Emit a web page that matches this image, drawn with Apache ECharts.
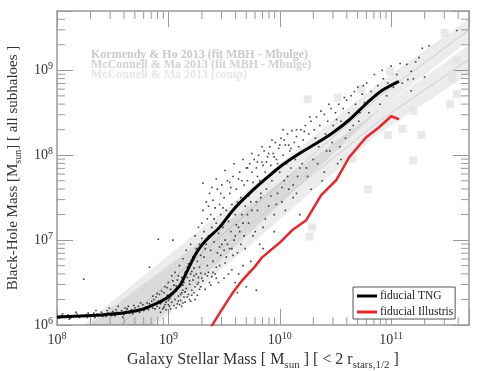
<!DOCTYPE html>
<html>
<head>
<meta charset="utf-8">
<script src="https://cdn.jsdelivr.net/npm/echarts@6/dist/echarts.min.js"></script>
<style>
html, body { margin: 0; padding: 0; background: #fff; }
#chart { width: 480px; height: 371px; }
</style>
</head>
<body>
<div id="chart"></div>
<script>
// all values are log10
var tngLogM  = [8.0, 8.2, 8.385, 8.59, 8.74, 8.86, 8.985, 9.1, 9.16, 9.25, 9.34, 9.46, 9.58, 9.73, 9.88, 10.02, 10.18, 10.33, 10.47, 10.62, 10.78, 10.92, 11.07];
var tngLogBH = [6.094, 6.105, 6.118, 6.141, 6.176, 6.235, 6.318, 6.459, 6.612, 6.847, 7.0, 7.153, 7.353, 7.553, 7.729, 7.882, 8.024, 8.141, 8.259, 8.412, 8.612, 8.765, 8.871];

var illLogM  = [9.38, 9.477, 9.576, 9.665, 9.773, 9.844, 9.996, 10.113, 10.238, 10.372, 10.507, 10.623, 10.776, 10.892, 11.0, 11.071];
var illLogBH = [5.97, 6.176, 6.376, 6.529, 6.682, 6.8, 6.965, 7.118, 7.235, 7.529, 7.706, 7.976, 8.212, 8.329, 8.459, 8.424];

// McConnell & Ma 2013 (comp) points
var compLogM  = [10.25, 10.52, 10.73, 10.99, 11.48, 11.59, 11.55, 11.55, 11.59, 11.53, 11.2, 11.1, 10.97, 11.27, 11.2, 10.79, 10.29, 10.27, 10.65];
var compLogBH = [8.66, 8.68, 8.78, 8.99, 9.44, 9.12, 8.95, 8.91, 8.72, 8.60, 8.52, 8.31, 8.24, 8.24, 7.94, 7.6, 7.15, 7.04, 7.96];

// scaling relations: band edges and fit line
var bandLogM = [8.0, 9.0, 10.0, 10.89, 11.69];
var khMid = [5.34, 6.50, 7.66, 8.69, 9.47];
var khHi  = [5.75, 6.82, 7.90, 8.85, 9.60];
var khLo  = [4.93, 6.18, 7.42, 8.53, 9.34];
var mmMid = [5.35, 6.41, 7.46, 8.40, 9.12];
var mmHi  = [5.72, 6.70, 7.68, 8.54, 9.29];
var mmLo  = [4.98, 6.12, 7.24, 8.26, 8.95];

// individual subhaloes
var dotsLog = [
 [8.02,6.08],[8.04,6.11],[8.06,6.09],[8.08,6.1],[8.1,6.12],[8.12,6.08],[8.14,6.1],[8.16,6.11],[8.18,6.13],[8.2,6.09],
 [8.22,6.11],[8.24,6.1],[8.26,6.12],[8.28,6.14],[8.3,6.1],[8.32,6.12],[8.34,6.09],[8.36,6.13],[8.38,6.11],[8.4,6.15],
 [8.42,6.12],[8.44,6.1],[8.46,6.14],[8.48,6.13],[8.5,6.16],[8.52,6.11],[8.54,6.15],[8.56,6.13],[8.58,6.17],[8.6,6.12],
 [8.62,6.16],[8.63,6.19],[8.65,6.14],[8.67,6.18],[8.68,6.13],[8.7,6.2],[8.71,6.16],[8.73,6.22],[8.74,6.15],[8.76,6.19],
 [8.77,6.24],[8.78,6.17],[8.8,6.21],[8.81,6.26],[8.82,6.18],[8.84,6.23],[8.85,6.28],[8.86,6.2],[8.87,6.3],[8.88,6.24],
 [8.89,6.33],[8.24,6.54],[8.83,6.68],[8.91,7.01],[9.04,7.0],[8.47,6.2],[8.55,6.22],[8.35,6.17],
 [8.9,6.22],[8.91,6.28],[8.92,6.36],[8.93,6.25],[8.94,6.4],[8.95,6.3],[8.96,6.21],[8.97,6.45],[8.98,6.27],[8.99,6.35],
 [9.0,6.5],[9.0,6.24],[9.01,6.31],[9.02,6.42],[9.03,6.58],[9.03,6.27],[9.04,6.36],[9.05,6.47],[9.06,6.3],[9.06,6.62],
 [9.07,6.4],[9.08,6.53],[9.08,6.25],[9.09,6.34],[9.1,6.7],[9.1,6.45],[9.11,6.29],[9.12,6.56],[9.12,6.38],[9.13,6.78],
 [9.14,6.5],[9.14,6.33],[9.15,6.62],[9.16,6.43],[9.16,6.88],[9.17,6.56],[9.18,6.36],[9.18,6.72],[9.19,6.48],[9.2,6.95],
 [9.2,6.6],[9.21,6.41],[9.22,6.8],[9.22,6.53],[9.23,6.67],[9.24,7.05],[9.24,6.45],[9.25,6.9],[9.25,6.6],[9.26,6.75],
 [9.27,7.15],[9.27,6.5],[9.28,6.95],[9.28,6.68],[9.29,6.82],[9.3,7.2],[9.3,6.55],[9.3,7.02],[9.12,6.22],[9.2,6.28],[9.26,6.35],
 [9.31,7.35],[9.32,6.8],[9.32,7.1],[9.33,6.6],[9.34,7.45],[9.34,6.95],[9.35,7.25],[9.35,6.7],[9.36,7.05],[9.37,7.55],
 [9.37,6.5],[9.38,6.88],[9.38,7.3],[9.39,7.15],[9.4,6.75],[9.4,7.47],[9.41,6.98],[9.42,7.38],[9.42,6.6],[9.43,7.2],
 [9.44,7.6],[9.44,6.85],[9.45,7.08],[9.46,7.42],[9.46,6.7],[9.47,7.3],[9.48,6.95],[9.48,7.65],[9.49,7.15],[9.5,6.55],
 [9.5,7.5],[9.51,7.0],[9.52,7.35],[9.52,6.8],[9.53,7.7],[9.54,7.22],[9.55,6.9],[9.55,7.55],[9.56,7.1],[9.57,6.65],
 [9.57,7.42],[9.58,7.75],[9.59,7.0],[9.6,7.3],[9.6,6.5],[9.61,7.6],[9.62,6.85],[9.62,7.45],[9.63,7.15],[9.64,7.8],
 [9.65,6.95],[9.65,7.5],[9.66,7.3],[9.67,6.7],[9.68,7.65],[9.68,7.05],[9.69,7.4],[9.7,7.85],[9.7,6.45],[9.31,7.67],
 [9.71,7.7],[9.72,7.2],[9.73,7.9],[9.74,7.45],[9.75,7.8],[9.76,7.05],[9.77,7.95],[9.78,7.6],[9.79,6.41],[9.79,7.85],
 [9.8,7.35],[9.81,8.0],[9.82,7.7],[9.83,7.5],[9.84,7.92],[9.85,7.15],[9.86,8.05],[9.87,7.8],[9.88,7.6],[9.89,7.98],
 [9.9,7.4],[9.91,8.1],[9.92,7.88],[9.93,7.7],[9.94,8.02],[9.95,7.3],[9.96,8.15],[9.97,7.95],[9.98,7.55],[9.99,8.08],
 [10.0,7.8],[10.01,8.2],[10.02,7.45],[10.03,8.0],[10.04,7.7],[10.05,8.12],[10.06,7.9],[10.07,8.25],[10.08,7.6],[10.09,8.05],
 [10.1,7.85],[10.11,8.29],[10.12,7.5],[10.13,8.15],[10.14,7.95],[10.15,8.22],[10.16,7.75],[10.17,8.1],[10.18,7.3],[10.19,8.3],
 [10.2,7.9],[10.21,8.18],[10.23,8.35],[10.24,7.85],[10.26,8.25],[10.28,8.4],[10.3,7.95],[10.31,8.3],[10.33,8.45],[10.35,8.1],
 [10.36,8.35],[10.38,7.7],[10.4,8.48],[10.41,8.25],[10.43,8.4],[10.45,8.05],[10.46,8.55],[10.48,8.35],[10.5,8.5],[10.52,7.9],
 [10.53,8.6],[10.55,8.4],[10.57,8.55],[10.59,8.2],[10.6,8.65],[10.62,8.5],[10.64,8.7],[10.66,8.35],[10.68,8.6],[10.7,8.8],
 [10.72,8.5],[10.74,8.72],[10.76,8.62],[10.78,8.85],[10.82,8.75],[10.85,8.95],[10.88,8.82],[10.9,8.6],[10.93,8.9],[10.97,8.85],
 [11.0,9.05],[11.05,8.95],[11.08,9.08],[11.14,9.07],[11.18,8.99],[11.18,8.76],[11.25,9.15],[11.28,9.26],[11.34,9.29],[11.15,8.89],
 [11.59,9.47],[11.2,8.9],
 [8.05,6.13],[8.11,6.07],[8.19,6.1],[8.27,6.09],[8.33,6.14],[8.41,6.1],[8.49,6.11],[8.57,6.14],[8.61,6.2],[8.66,6.16],
 [8.69,6.23],[8.72,6.18],[8.75,6.26],[8.79,6.2],[8.83,6.25],[8.86,6.34],[8.88,6.19],[8.9,6.37],[8.92,6.2],[8.94,6.27],
 [8.96,6.38],[8.97,6.24],[8.99,6.44],[9.01,6.22],[9.02,6.33],[9.04,6.52],[9.05,6.23],[9.07,6.46],[9.09,6.58],[9.11,6.36],
 [9.13,6.47],[9.13,6.26],[9.15,6.39],[9.17,6.68],[9.19,6.3],[9.21,6.63],[9.23,6.38],[9.26,6.48],[9.28,6.42],[9.29,6.61],
 [9.33,6.9],[9.36,6.62],[9.39,6.57],[9.41,7.25],[9.43,6.68],[9.45,6.5],[9.47,6.82],[9.49,7.38],[9.51,6.73],[9.54,6.6],
 [9.56,7.62],[9.58,6.82],[9.61,7.18],[9.63,6.6],[9.66,7.7],[9.69,6.9],[9.72,7.52],[9.74,6.75],[9.76,7.68],[9.78,7.1],
 [9.8,7.92],[9.82,6.95],[9.85,7.88],[9.87,7.25],[9.9,8.02],[9.92,7.52],[9.95,7.98],[9.97,7.42],[10.0,8.12],[10.02,7.62],
 [10.04,8.18],[10.07,7.75],[10.1,8.08],[10.12,7.65],[10.15,8.3],[10.18,7.85],[10.22,8.28],[10.25,7.75],[10.27,8.45],[10.32,8.2],
 [10.34,7.9],[10.37,8.52],[10.42,8.05],[10.44,8.6],[10.47,8.15],[10.51,8.42],[10.54,8.1],[10.58,8.68],[10.63,8.3],[10.67,8.75],
 [10.71,8.4],[10.75,8.82],[10.8,8.5],[10.86,8.7],[10.92,9.0],[10.96,8.7],[11.02,8.8],[11.1,8.85],[11.22,9.1],[11.3,8.92],
 [9.85,6.9],[9.95,7.1],[10.05,7.35],[10.15,7.55],[10.28,7.6],[10.4,7.8],[10.55,7.95],[9.62,6.38],[9.72,6.62],[8.17,6.15],
 [8.45,6.17],[8.53,6.18],[8.59,6.09],[8.64,6.22],
 [8.93,6.15],[8.95,6.19],[8.98,6.18],[9.0,6.29],[9.02,6.19],[9.05,6.39],[9.07,6.2],[9.09,6.28],[9.1,6.24],[9.13,6.41],
 [9.15,6.27],[9.17,6.33],[9.19,6.52],[9.21,6.35],[9.23,6.58],[9.24,6.3],[9.27,6.56],[9.29,6.45],[9.31,6.52],[9.33,6.42],
 [9.35,6.58],[9.38,6.47],[9.4,6.62],[9.43,6.55],[9.46,6.92],[9.5,6.88],[9.53,6.95],[9.57,6.9],[9.6,7.05],[9.64,7.1],
 [9.67,7.2],[9.71,7.3],[9.75,7.35],[9.79,7.45],[9.83,7.55],[9.36,7.4],[9.39,7.62],[9.43,7.72],[9.47,7.55],[9.51,7.82],
 [9.55,7.68],[9.59,7.9],[9.63,7.72],[9.67,7.95],[9.71,7.85],[9.75,8.02],[9.8,7.75],[9.84,8.1],[9.88,7.92],[9.93,8.18],
 [9.98,7.9],[10.03,8.3],[10.08,8.12]
];

function toPts(lx, ly) {
  return lx.map(function (v, i) { return [Math.pow(10, v), Math.pow(10, ly[i])]; });
}

var xMin = 1e8, xMax = 5e11, yMin = 1e6, yMax = 5e9;
var serif = 'Liberation Serif';
var axisGray = '#999';

var xMinor = [], yMinor = [];
for (var e = 8; e <= 11; e++) {
  for (var k = 2; k <= 9; k++) {
    var v = k * Math.pow(10, e);
    if (v < xMax) xMinor.push([v, yMin]);
  }
}
for (var e2 = 6; e2 <= 9; e2++) {
  for (var k2 = 2; k2 <= 9; k2++) {
    var w = k2 * Math.pow(10, e2);
    if (w < yMax) yMinor.push([xMin, w]);
  }
}

function expLabel(val) {
  var ex = Math.log10(val);
  if (Math.abs(ex - Math.round(ex)) > 1e-6) return '';
  return '10{s|' + Math.round(ex) + '}';
}
var labelRich = { s: { fontSize: 10, fontFamily: serif, color: '#333', verticalAlign: 'top', padding: [0, 0, 8, 0] } };

function bandItem(mid, hi, lo, fill, lineCol) {
  return {
    type: 'custom',
    coordinateSystem: 'cartesian2d',
    clip: true,
    silent: true,
    z: 1,
    data: [[1e9, 1e7]],
    renderItem: function (params, api) {
      var top = bandLogM.map(function (m, i) { return api.coord([Math.pow(10, m), Math.pow(10, hi[i])]); });
      var bot = bandLogM.map(function (m, i) { return api.coord([Math.pow(10, m), Math.pow(10, lo[i])]); }).reverse();
      var mid2 = bandLogM.map(function (m, i) { return api.coord([Math.pow(10, m), Math.pow(10, mid[i])]); });
      return {
        type: 'group',
        children: [
          { type: 'polygon', shape: { points: top.concat(bot) }, style: { fill: fill } },
          { type: 'polyline', shape: { points: mid2 }, style: { stroke: lineCol, lineWidth: 1, fill: null } }
        ]
      };
    }
  };
}

function minorTicks(data, isX) {
  return {
    type: 'custom',
    coordinateSystem: 'cartesian2d',
    silent: true,
    z: 5,
    data: data,
    renderItem: function (params, api) {
      var cs = params.coordSys;
      var p = api.coord([api.value(0), api.value(1)]);
      var L = 8;
      var lines;
      if (isX) {
        lines = [
          { type: 'line', shape: { x1: p[0], y1: cs.y + cs.height, x2: p[0], y2: cs.y + cs.height - L } },
          { type: 'line', shape: { x1: p[0], y1: cs.y, x2: p[0], y2: cs.y + L } }
        ];
      } else {
        lines = [
          { type: 'line', shape: { x1: cs.x, y1: p[1], x2: cs.x + L, y2: p[1] } },
          { type: 'line', shape: { x1: cs.x + cs.width, y1: p[1], x2: cs.x + cs.width - L, y2: p[1] } }
        ];
      }
      lines.forEach(function (l) { l.style = { stroke: axisGray, lineWidth: 1 }; });
      return { type: 'group', children: lines };
    }
  };
}

var myChart = echarts.init(document.getElementById('chart'));
var option = {
  animation: false,
  backgroundColor: '#fff',
  grid: { left: 57, right: 11, top: 11, bottom: 46, outerBoundsMode: 'none', containLabel: false },
  legend: {
    data: ['fiducial TNG', 'fiducial Illustris'],
    orient: 'vertical',
    left: 353, top: 287,
    icon: 'rect',
    itemWidth: 20, itemHeight: 3,
    itemGap: 4,
    itemStyle: { borderWidth: 0 },
    padding: [3, 2, 1, 4],
    borderColor: '#555', borderWidth: 1,
    backgroundColor: '#fff',
    textStyle: { fontFamily: serif, fontSize: 11.5, color: '#222', padding: [0, 0, 0, -2] },
    z: 20
  },
  graphic: [
    { type: 'text', left: 91, top: 49, z: 10, style: { text: 'Kormendy & Ho 2013 (fit MBH - Mbulge)', font: 'bold 12px "Liberation Serif"', fill: '#cacaca' } },
    { type: 'text', left: 91, top: 59, z: 10, style: { text: 'McConnell & Ma 2013 (fit MBH - Mbulge)', font: 'bold 12px "Liberation Serif"', fill: '#d2d2d2' } },
    { type: 'text', left: 91, top: 69, z: 10, style: { text: 'McConnell & Ma 2013 (comp)', font: 'bold 12px "Liberation Serif"', fill: '#e6e6e6' } }
  ],
  xAxis: [{
    type: 'log', min: xMin, max: xMax, logBase: 10,
    position: 'bottom',
    name: 'Galaxy Stellar Mass [ M{sub|sun} ] [ < 2 r{sub|stars,1/2} ]',
    nameLocation: 'middle', nameGap: 23,
    nameTextStyle: {
      fontFamily: serif, fontSize: 16, color: '#333',
      rich: { sub: { fontFamily: serif, fontSize: 11, color: '#333', verticalAlign: 'bottom', padding: [10, 0, 0, 0] } }
    },
    axisLine: { lineStyle: { color: axisGray, width: 1.5 } },
    axisTick: { inside: true, length: 16, lineStyle: { color: axisGray } },
    splitLine: { show: false },
    axisLabel: { formatter: expLabel, fontFamily: serif, fontSize: 14, color: '#333', margin: 6, rich: labelRich }
  }, {
    type: 'log', min: xMin, max: xMax, logBase: 10,
    position: 'top',
    axisLine: { lineStyle: { color: axisGray, width: 1.5 } },
    axisTick: { inside: true, length: 16, lineStyle: { color: axisGray } },
    splitLine: { show: false },
    axisLabel: { show: false }
  }],
  yAxis: [{
    type: 'log', min: yMin, max: yMax, logBase: 10,
    position: 'left',
    name: 'Black-Hole Mass [M{sub|sun}] [ all subhaloes ]',
    nameLocation: 'middle', nameGap: 30,
    nameTextStyle: {
      fontFamily: serif, fontSize: 15, color: '#333',
      rich: { sub: { fontFamily: serif, fontSize: 10, color: '#333', verticalAlign: 'bottom', padding: [10, 0, 0, 0] } }
    },
    axisLine: { lineStyle: { color: axisGray, width: 1.5 } },
    axisTick: { inside: true, length: 16, lineStyle: { color: axisGray } },
    splitLine: { show: false },
    axisLabel: { formatter: expLabel, fontFamily: serif, fontSize: 14, color: '#333', margin: 4, rich: labelRich }
  }, {
    type: 'log', min: yMin, max: yMax, logBase: 10,
    position: 'right',
    axisLine: { lineStyle: { color: axisGray, width: 1.5 } },
    axisTick: { inside: true, length: 16, lineStyle: { color: axisGray } },
    splitLine: { show: false },
    axisLabel: { show: false }
  }],
  series: [
    bandItem(khMid, khHi, khLo, 'rgba(0,0,0,0.075)', '#cdcdcd'),
    bandItem(mmMid, mmHi, mmLo, 'rgba(0,0,0,0.075)', '#cdcdcd'),
    {
      name: 'McConnell & Ma 2013 (comp)',
      type: 'scatter', symbol: 'rect', symbolSize: 8, z: 2, silent: true,
      itemStyle: { color: '#e3e3e3' },
      data: toPts(compLogM, compLogBH)
    },
    {
      name: 'subhaloes',
      type: 'scatter', symbol: 'rect', symbolSize: 1.6, z: 3, silent: true,
      itemStyle: { color: '#111' },
      data: dotsLog.map(function (d) { return [Math.pow(10, d[0]), Math.pow(10, d[1])]; })
    },
    {
      name: 'fiducial TNG',
      type: 'line', showSymbol: false, smooth: 0.3, z: 4,
      lineStyle: { color: '#000', width: 3 },
      itemStyle: { color: '#000' },
      data: toPts(tngLogM, tngLogBH)
    },
    {
      name: 'fiducial Illustris',
      type: 'line', showSymbol: false, smooth: false, z: 4, clip: true,
      lineStyle: { color: '#e8262b', width: 2.5 },
      itemStyle: { color: '#e8262b' },
      data: toPts(illLogM, illLogBH)
    },
    minorTicks(xMinor, true),
    minorTicks(yMinor, false)
  ]
};
myChart.setOption(option);
</script>
</body>
</html>
